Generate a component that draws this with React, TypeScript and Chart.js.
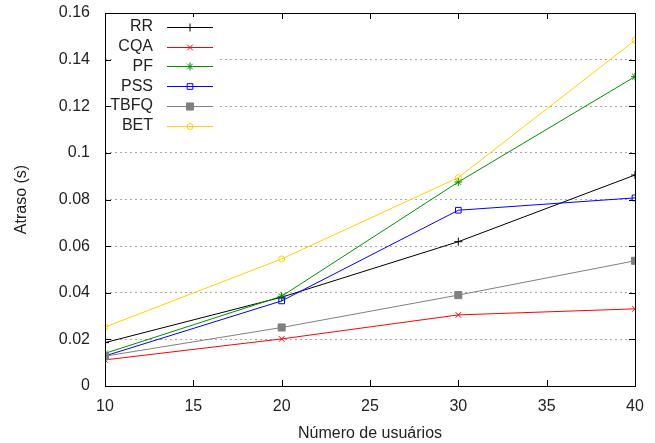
import React, { useEffect, useRef } from "react";
import { Chart, registerables } from "chart.js";
import { drawPoint } from "chart.js/helpers";

Chart.register(...registerables);

const users = [10, 20, 30, 40];
const rr = [0.0186, 0.0381, 0.0619, 0.0905];
const cqa = [0.0112, 0.0202, 0.0305, 0.0331];
const pf = [0.014, 0.0385, 0.0875, 0.1327];
const pss = [0.0129, 0.0365, 0.0754, 0.0807];
const tbfq = [0.0128, 0.0251, 0.039, 0.0537];
const bet = [0.0253, 0.0545, 0.0894, 0.1483];

const seriesNames = ["RR", "CQA", "PF", "PSS", "TBFQ", "BET"];
const seriesValues = [rr, cqa, pf, pss, tbfq, bet];
const seriesColors = ["#000000", "#ff0000", "#009000", "#0000ff", "#808080", "#ffd200"];
const seriesMarkers = ["cross", "crossRot", "star", "rect", "rect", "circle"];
const seriesFilled = [false, false, false, false, true, false];
const seriesRadius = [4, 4, 4, 4, 5, 3];

const xTitle = "Número de usuários";
const yTitle = "Atraso (s)";
const FONT = "'Liberation Sans', Arial, sans-serif";

const framePlugin = {
  id: "frame",
  afterDraw(chart: any) {
    const { ctx, chartArea } = chart;
    const { left, right, top, bottom } = chartArea;
    const xs = chart.scales.x;
    const ys = chart.scales.y;
    ctx.save();
    ctx.strokeStyle = "#000";
    ctx.lineWidth = 1;
    ctx.beginPath();
    const L = 6;
    ys.ticks.forEach((t: any) => {
      const y = Math.round(ys.getPixelForValue(t.value)) + 0.5;
      ctx.moveTo(left, y);
      ctx.lineTo(left + L, y);
      ctx.moveTo(right, y);
      ctx.lineTo(right - L, y);
    });
    xs.ticks.forEach((t: any) => {
      const x = Math.round(xs.getPixelForValue(t.value)) + 0.5;
      ctx.moveTo(x, bottom);
      ctx.lineTo(x, bottom - L);
      ctx.moveTo(x, top);
      ctx.lineTo(x, top + L);
    });
    ctx.stroke();
    ctx.strokeRect(Math.round(left) + 0.5, Math.round(top) + 0.5, Math.round(right - left), Math.round(bottom - top));

    // legend
    const textRight = left + 48;
    const lx0 = left + 62;
    const lx1 = left + 108;
    const y0 = top + 14;
    const dy = 19.7;
    ctx.fillStyle = "#fff";
    ctx.fillRect(left + 8, top + 4, 104, dy * 6 + 2);
    ctx.font = `16px ${FONT}`;
    ctx.textAlign = "right";
    ctx.textBaseline = "middle";
    seriesNames.forEach((name, i) => {
      const y = y0 + i * dy;
      ctx.fillStyle = "#222";
      ctx.fillText(name, textRight, y);
      ctx.strokeStyle = seriesColors[i];
      ctx.lineWidth = 1;
      ctx.beginPath();
      ctx.moveTo(lx0, Math.round(y) + 0.5);
      ctx.lineTo(lx1, Math.round(y) + 0.5);
      ctx.stroke();
      ctx.fillStyle = seriesFilled[i] ? seriesColors[i] : "rgba(0,0,0,0)";
      drawPoint(ctx, { pointStyle: seriesMarkers[i], radius: seriesRadius[i], borderWidth: 1, rotation: 0 } as any, (lx0 + lx1) / 2, Math.round(y) + 0.5);
    });
    ctx.restore();
  },
};

export default function App() {
  const ref = useRef<HTMLCanvasElement>(null);
  useEffect(() => {
    document.body.style.margin = "0";
    const datasets = seriesNames.map((name, i) => ({
      label: name,
      data: users.map((u, j) => ({ x: u, y: seriesValues[i][j] })),
      borderColor: seriesColors[i],
      backgroundColor: seriesFilled[i] ? seriesColors[i] : "rgba(0,0,0,0)",
      borderWidth: 1,
      pointStyle: seriesMarkers[i],
      pointRadius: seriesRadius[i],
      pointBorderWidth: 1,
      pointBorderColor: seriesColors[i],
      pointBackgroundColor: seriesFilled[i] ? seriesColors[i] : "rgba(0,0,0,0)",
      tension: 0,
      order: seriesNames.length - i,
    }));
    const chart = new Chart(ref.current!, {
      type: "line",
      data: { datasets },
      plugins: [framePlugin],
      options: {
        animation: false,
        responsive: false,
        layout: { padding: { top: 13, right: 20, left: 0, bottom: 0 } },
        plugins: { legend: { display: false }, tooltip: { enabled: false } },
        scales: {
          x: {
            type: "linear",
            min: 10,
            max: 40,
            afterFit: (s: any) => { s.height = 57; s.paddingLeft = 0; s.paddingRight = 0; },
            ticks: { stepSize: 5, padding: 11, color: "#222", font: { family: FONT, size: 16 }, maxRotation: 0 },
            grid: { display: false, drawTicks: false },
            border: { display: false },
            title: { display: true, text: xTitle, color: "#222", font: { family: FONT, size: 16 }, padding: { top: 1, bottom: 0 } },
          },
          y: {
            min: 0,
            max: 0.16,
            afterFit: (s: any) => { s.width = 105; s.paddingTop = 0; s.paddingBottom = 0; },
            ticks: {
              stepSize: 0.02,
              padding: 15,
              color: "#222",
              font: { family: FONT, size: 16 },
              callback: (v: any) => String(Number(Number(v).toFixed(2))),
            },
            grid: { color: "#a8a8a8", lineWidth: 1, drawTicks: false },
            border: { display: false, dash: [2, 3] },
            title: { display: true, text: yTitle, color: "#222", font: { family: FONT, size: 16 }, padding: { top: 12, bottom: 0 } },
          },
        },
      } as any,
    });
    return () => chart.destroy();
  }, []);
  return (
    <div style={{ position: "fixed", left: 0, top: 0, width: 655, height: 443, background: "#fff" }}>
      <canvas ref={ref} width={655} height={443} style={{ width: 655, height: 443 }} />
    </div>
  );
}
